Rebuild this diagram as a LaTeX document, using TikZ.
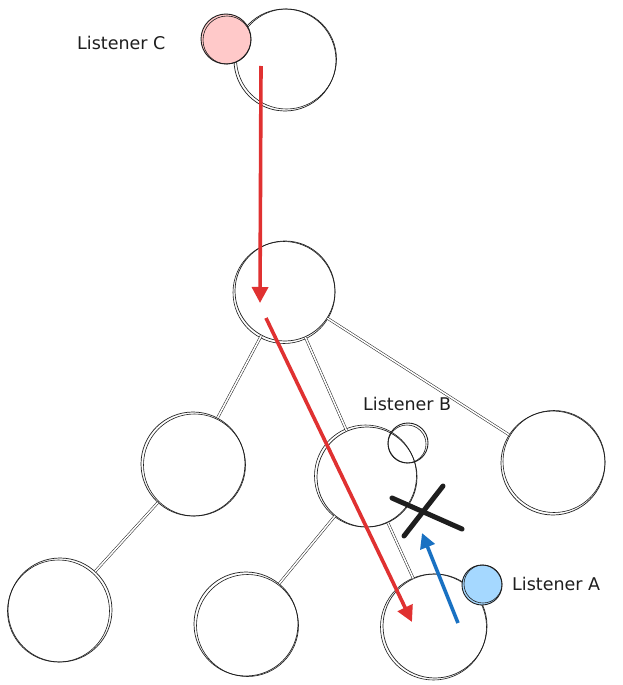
\documentclass[tikz,border=0pt]{standalone}
\usepackage{fontspec}
\setmainfont{DejaVu Sans}
\usetikzlibrary{arrows.meta,calc}
\definecolor{ink}{HTML}{1E1E1E}
\definecolor{redx}{HTML}{E03131}
\definecolor{bluex}{HTML}{1971C2}
\definecolor{pinkf}{HTML}{FFC9C9}
\definecolor{bluef}{HTML}{A5D8FF}
\tikzset{
  treenode/.style={circle, draw=ink, line width=0.7pt, inner sep=0pt, minimum size=#1},
  sketch/.style={draw=ink, line width=0.6pt},
  edge/.style={draw=ink, line width=0.5pt, double=white, double distance=1.6pt},
  flowred/.style={draw=redx, line width=3.6pt, -{Triangle[length=16pt,width=16pt]}},
  flowblue/.style={draw=bluex, line width=3.6pt, -{Triangle[length=15pt,width=15pt]}},
  crossx/.style={draw=ink, line width=5pt, line cap=round},
  listener/.style={circle, draw=ink, line width=0.9pt, inner sep=0pt, minimum size=#1},
  lbl/.style={font=\fontsize{17.5}{20}\selectfont, text=ink, inner sep=0pt}
}
\begin{document}
\begin{tikzpicture}[x=1pt,y=-1pt]
\useasboundingbox[fill=white] (0,0) rectangle (622,685);
% tree nodes
\node[treenode=102pt] (top) at (285,60) {};
\node[treenode=100pt] (mid) at (285,291) {};
\node[treenode=104pt] (lm) at (193,464) {};
\node[treenode=100pt] (cm) at (367,477) {};
\node[treenode=104pt] (rm) at (553,463) {};
\node[treenode=104pt] (bl) at (60,610) {};
\node[treenode=104pt] (bm) at (246,624) {};
\node[treenode=104pt] (br) at (435,626) {};
% sketchy second outlines
\draw[sketch] ($(top)+(1.5,-1)$) circle[radius=50];
\draw[sketch] ($(mid)+(-1,1.5)$) circle[radius=51];
\draw[sketch] ($(lm)+(1.5,1)$) circle[radius=51];
\draw[sketch] ($(cm)+(-1.5,-1)$) circle[radius=51];
\draw[sketch] ($(rm)+(1,-1.5)$) circle[radius=51];
\draw[sketch] ($(bl)+(-1.5,1)$) circle[radius=51];
\draw[sketch] ($(bm)+(1.5,1.5)$) circle[radius=51];
\draw[sketch] ($(br)+(-1.5,1)$) circle[radius=53];
% edges
\draw[edge] ($(top.south)+(-6,0)$) -- ($(mid.north)+(-6,0)$);
\draw[edge] (mid) -- (lm);
\draw[edge] (mid) -- (cm);
\draw[edge] (mid) -- (rm);
\draw[edge] (lm) -- (bl);
\draw[edge] (cm) -- (bm);
\draw[edge] (cm) -- (br);
% listeners
\node[listener=50pt, fill=pinkf] (lc) at (226,39) {};
\draw[sketch] ($(lc)+(1,1)$) circle[radius=24];
\node[listener=40pt] (lb) at (408,443) {};
\draw[sketch] ($(lb)+(-1,1)$) circle[radius=19];
\node[listener=40pt, fill=bluef] (la) at (482,585) {};
\draw[sketch] ($(la)+(1,-1)$) circle[radius=19];
% labels
\node[lbl, anchor=west] (tc) at (77,43) {Listener C};
\node[lbl, anchor=west] (tb) at (363,404) {Listener B};
\node[lbl, anchor=west] (ta) at (512,584) {Listener A};
% message flow
\coordinate (r1s) at (261,66);
\coordinate (r1e) at (260,303);
\coordinate (r2s) at (266,318);
\coordinate (r2e) at (412,622);
\coordinate (b1s) at (458,623);
\coordinate (b1e) at (422,533);
\draw[flowred] (r1s) -- (r1e);
\draw[flowred] (r2s) -- (r2e);
\draw[flowblue] (b1s) -- (b1e);
% blocked mark
\coordinate (x1a) at (392,498);
\coordinate (x1b) at (462,529);
\coordinate (x2a) at (443,486);
\coordinate (x2b) at (404,536);
\draw[crossx] (x1a) -- (x1b);
\draw[crossx] (x2a) -- (x2b);
\end{tikzpicture}
\end{document}
